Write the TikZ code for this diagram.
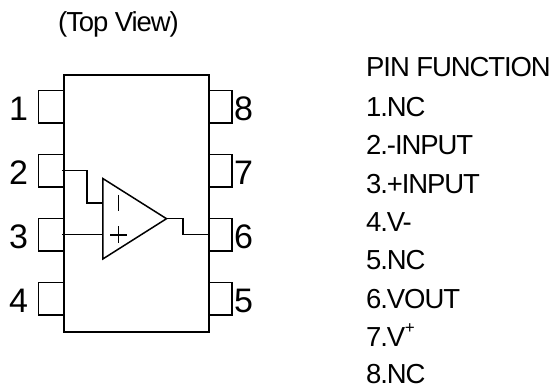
\documentclass[tikz,border=0pt]{standalone}
\usepackage{fontspec}
\setmainfont{Liberation Sans}
\newfontfamily\tightfont[LetterSpace=-4]{Liberation Sans}
\begin{document}
\begin{tikzpicture}[x=1pt,y=-1pt,line join=miter,
  ln/.style={draw=black,line width=1.5pt},
  digit/.style={inner sep=0pt,anchor=base west,font=\fontsize{34}{34}\selectfont},
  txt/.style={inner sep=0pt,anchor=base west,font=\tightfont\fontsize{27.5}{27.5}\selectfont}]
\useasboundingbox (0,0) rectangle (552,387);
% pins
\foreach \n/\y in {1/90.7,2/154.6,3/218.7,4/282.5}{
  \draw[ln] (63,\y) -- (38.5,\y) -- (38.5,\y+32.5) -- (63,\y+32.5);
}
\foreach \n/\y in {8/90.7,7/154.6,6/218.7,5/282.5}{
  \draw[ln] (208,\y) -- (232,\y) -- (232,\y+32.5) -- (208,\y+32.5);
}
% body
\node[ln,minimum width=145pt,minimum height=257pt,inner sep=0pt,anchor=north west] (body) at (63,74.5) {};
% op-amp
\coordinate (ta) at (102.8,178.5);
\coordinate (tb) at (102.8,259);
\coordinate (tc) at (166.5,218.7);
\draw[ln] (ta) -- (tb) -- (tc) -- cycle;
\coordinate (in2) at (62,170.3);
\coordinate (in2m) at (102.8,203);
\coordinate (in3) at (62,234.5);
\coordinate (in3m) at (102.8,234.5);
\coordinate (out6) at (208,234.5);
\draw[ln] (in2) -- (87,170.3) -- (87,203) -- (in2m);
\draw[ln] (in3) -- (in3m);
\draw[ln] (tc) -- (183,218.7) -- (183,234.5) -- (out6);
% signs
\draw[ln] (118.7,195) -- (118.7,211.5);
\draw[ln] (110,235) -- (127,235) (118.7,226.5) -- (118.7,243.5);
% digits
\node[digit] (d1) at (9,120.7) {1};
\node[digit] (d2) at (9,184.7) {2};
\node[digit] (d3) at (9,248.7) {3};
\node[digit] (d4) at (9,312.5) {4};
\node[digit] (d8) at (234,120.7) {8};
\node[digit] (d7) at (234,184.7) {7};
\node[digit] (d6) at (234,248.7) {6};
\node[digit] (d5) at (234,312.5) {5};
% text
\node[txt] (tv) at (58,32) {(Top View)};
\node[txt] (h) at (366,77) {PIN FUNCTION};
\node[txt] (p1) at (366,116.5) {1.NC};
\node[txt] (p2) at (366,155) {2.-INPUT};
\node[txt] (p3) at (366,193.5) {3.+INPUT};
\node[txt] (p4) at (366,232) {4.V-};
\node[txt] (p5) at (366,270) {5.NC};
\node[txt] (p6) at (366,308.5) {6.VOUT};
\node[txt] (p7) at (366,347) {7.V\kern-0.5pt\raisebox{13pt}{\fontsize{17}{17}\selectfont +}};
\node[txt] (p8) at (366,384) {8.NC};
\end{tikzpicture}
\end{document}
